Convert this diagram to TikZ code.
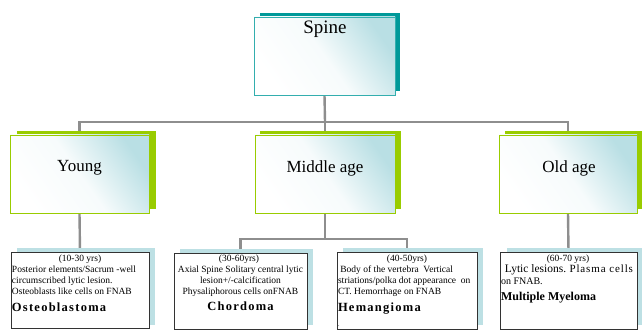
\documentclass[tikz,border=0pt]{standalone}
\usepackage{fontspec}
\setmainfont{Liberation Serif}
\newfontfamily\spacedfont[LetterSpace=10]{Liberation Serif}
\newfontfamily\plasmafont[LetterSpace=8]{Liberation Serif}
\definecolor{tealdark}{HTML}{009999}
\definecolor{tealborder}{HTML}{33AEAE}
\definecolor{lime}{HTML}{99CC00}
\definecolor{paleblue}{HTML}{BDE0E4}
\definecolor{glow}{HTML}{B9DFE4}
\definecolor{connector}{HTML}{8E8E8E}
\pgfdeclarelayer{bg}
\pgfsetlayers{bg,main}
\begin{document}
\begin{tikzpicture}[x=1pt,y=-1pt,
  every node/.style={inner sep=0pt,outer sep=0pt},
  rect/.style={anchor=north west,rectangle},
  glowfill/.style={top color=glow, bottom color=white, middle color=white!88!glow, shading angle=-55},
  topbox/.style={rect, glowfill, draw=tealborder, line width=0.8pt},
  agebox/.style={rect, glowfill, draw=lime, line width=0.8pt},
  leafbox/.style={rect, fill=white, draw=black!80, line width=0.7pt},
  tealshadow/.style={rect, fill=tealdark},
  limeshadow/.style={rect, fill=lime},
  paleshadow/.style={rect, fill=paleblue},
  conn/.style={draw=connector, line width=2.4pt},
  bigtxt/.style={font=\fontsize{19}{22}\selectfont, anchor=base},
  agetxt/.style={font=\fontsize{17}{20}\selectfont, anchor=base},
  smalltxt/.style={font=\fontsize{9.5}{11}\selectfont},
  nametxt/.style={font=\fontsize{12.5}{14}\selectfont\spacedfont\bfseries, anchor=base west}
]
\useasboundingbox (0,0) rectangle (642,331);

% top box
\node[tealshadow, minimum width=140pt, minimum height=78pt] (spineshadow) at (260,13) {};
\node[topbox, minimum width=141pt, minimum height=78pt] (spine) at (254,17) {};
\node[bigtxt] (spinetext) at (325,34) {Spine};

% age boxes
\node[limeshadow, minimum width=139pt, minimum height=78pt] (youngshadow) at (17,131) {};
\node[agebox, minimum width=139pt, minimum height=78pt] (young) at (10,135) {};
\node[agetxt] (youngtext) at (79.5,172) {Young};

\node[limeshadow, minimum width=141pt, minimum height=78pt] (middleshadow) at (260,131) {};
\node[agebox, minimum width=140pt, minimum height=78pt] (middle) at (255,135) {};
\node[agetxt] (middletext) at (325,173) {Middle age};

\node[limeshadow, minimum width=137pt, minimum height=78pt] (oldshadow) at (505,131) {};
\node[agebox, minimum width=138pt, minimum height=78pt] (old) at (499,135) {};
\node[agetxt] (oldtext) at (569,173) {Old age};

% leaf boxes
\node[paleshadow, minimum width=138pt, minimum height=77pt] (youngleafshadow) at (17,248) {};
\node[leafbox, minimum width=138pt, minimum height=76pt] (youngleaf) at (11,252) {};

\node[paleshadow, minimum width=133pt, minimum height=76pt] (chordshadow) at (180,249) {};
\node[leafbox, minimum width=133pt, minimum height=76pt] (chord) at (174,253) {};

\node[paleshadow, minimum width=140pt, minimum height=77pt] (hemshadow) at (343,248) {};
\node[leafbox, minimum width=140pt, minimum height=77pt] (hem) at (337,252) {};

\node[paleshadow, minimum width=135pt, minimum height=77pt] (oldleafshadow) at (507,248) {};
\node[leafbox, minimum width=137pt, minimum height=77pt] (oldleaf) at (500,252) {};

% connectors
\begin{pgfonlayer}{bg}
\coordinate (bus) at (325,122);
\coordinate (busb) at (325,239);
\draw[conn] (spine.south) -- (bus);
\draw[conn] (young.north) |- (bus) -| (old.north);
\draw[conn] (bus) -- (middle.north);
\draw[conn] (young.south) -- (youngleaf.north);
\draw[conn] (middle.south) -- (busb);
\draw[conn] (chord.north) |- (busb) -| (hem.north);
\draw[conn] (old.south) -- (oldleaf.north);
\end{pgfonlayer}

% young leaf text
\node[smalltxt, anchor=base] (t1a) at (80,261) {(10-30 yrs)};
\node[smalltxt, anchor=north west, align=left] (t1b) at (12,265.5) {Posterior elements/Sacrum -well\\circumscribed lytic lesion.\\Osteoblasts like cells on FNAB};
\node[nametxt] (t1c) at (12,311) {Osteoblastoma};

% chordoma leaf text
\node[smalltxt, anchor=base] (t2a) at (239,261) {(30-60yrs)};
\node[smalltxt, anchor=north, align=center] (t2b) at (240.5,265.5) {Axial Spine Solitary central lytic\\lesion+/-calcification\\Physaliphorous cells onFNAB};
\node[nametxt, anchor=base] (t2c) at (240.5,310) {Chordoma};

% hemangioma leaf text
\node[smalltxt, anchor=base] (t3a) at (407,261) {(40-50yrs)};
\node[smalltxt, anchor=north west, align=left] (t3b) at (338,265.5) {\ Body of the vertebra \ Vertical\\striations/polka dot appearance \ on\\CT. Hemorrhage on FNAB};
\node[nametxt] (t3c) at (338,311) {Hemangioma};
\node[font=\fontsize{6}{6}\selectfont, anchor=base west] (t3d) at (338,326) {.};

% old leaf text
\node[smalltxt, anchor=base] (t4a) at (568,261) {(60-70 yrs)};
\node[anchor=base west] (t4b) at (502,272) {{\fontsize{11.5}{13}\selectfont\ Lytic lesions.} {\fontsize{11}{12}\selectfont\plasmafont Plasma cells}};
\node[font=\fontsize{10}{12}\selectfont, anchor=base west] (t4c) at (501,284) {on FNAB.};
\node[anchor=base west, font=\fontsize{12}{14}\selectfont\bfseries] (t4d) at (501,300) {Multiple Myeloma};
\end{tikzpicture}
\end{document}
